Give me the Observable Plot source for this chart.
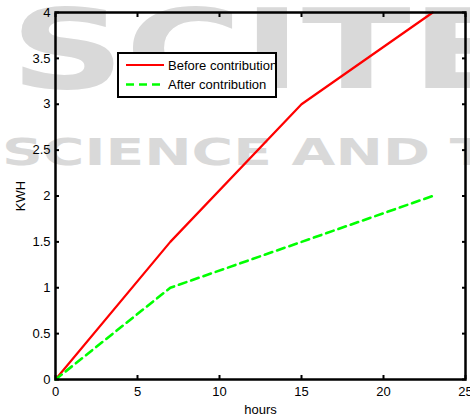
<!DOCTYPE html>
<html>
<head>
<meta charset="utf-8">
<script src="https://cdn.jsdelivr.net/npm/d3@7"></script>
<script src="https://cdn.jsdelivr.net/npm/@observablehq/plot@0.6"></script>
<style>
  html, body { margin: 0; padding: 0; background: #fff; }
  #chart svg { display: block; }
</style>
</head>
<body>
<div id="chart"></div>
<script>
// Data
const hours = [0, 7, 15, 23];
const before = [0, 1.5, 3, 4];
const after = [0, 1, 1.5, 2];
const seriesNames = ["Before contribution", "After contribution"];
const xTicks = [0, 5, 10, 15, 20, 25];
const yTicks = [0, 0.5, 1, 1.5, 2, 2.5, 3, 3.5, 4];

const rowsBefore = hours.map((h, i) => ({hours: h, kwh: before[i]}));
const rowsAfter = hours.map((h, i) => ({hours: h, kwh: after[i]}));

const font = "Liberation Sans, Arial, sans-serif";

const chart = Plot.plot({
  width: 470,
  height: 418,
  marginLeft: 55,
  marginRight: 5,
  marginTop: 12,
  marginBottom: 39,
  style: {fontFamily: font, fontSize: "13px", background: "transparent", color: "#000"},
  x: {domain: [0, 25]},
  y: {domain: [0, 4]},
  marks: [
    Plot.axisX({ticks: xTicks, tickSize: -4, tickPadding: 11, strokeWidth: 2, fontSize: 13,
      label: "hours", labelAnchor: "center", labelArrow: "none", labelOffset: 34}),
    Plot.axisX({anchor: "top", ticks: xTicks, tickSize: -4, strokeWidth: 2, tickFormat: () => "", label: null}),
    Plot.axisY({ticks: yTicks, tickSize: -4, tickPadding: 9, strokeWidth: 2, fontSize: 13,
      tickFormat: d => String(d),
      label: "KWH", labelAnchor: "center", labelArrow: "none", labelOffset: 40}),
    Plot.axisY({anchor: "right", ticks: yTicks, tickSize: -4, strokeWidth: 2, tickFormat: () => "", label: null}),
    Plot.line(rowsBefore, {x: "hours", y: "kwh", stroke: "#ff0000", strokeWidth: 2.2}),
    Plot.line(rowsAfter, {x: "hours", y: "kwh", stroke: "#00ff00", strokeWidth: 2.6, strokeDasharray: "8,5"}),
    Plot.frame({stroke: "#000", strokeWidth: 2.5})
  ]
});

const svg = d3.select(chart);

// Faint background watermark (as in the reference image)
const wm = svg.insert("g", ":first-child").attr("fill", "#d9d9d9")
  .attr("font-family", "DejaVu Sans, sans-serif").attr("font-weight", "bold").attr("text-anchor", "start");
svg.insert("rect", ":first-child").attr("width", 470).attr("height", 418).attr("fill", "#fff");
wm.append("text").attr("x", 10).attr("y", 88).attr("font-size", 110)
  .attr("textLength", 510).attr("lengthAdjust", "spacingAndGlyphs").text("SCITE");
wm.append("text").attr("x", 2).attr("y", 165).attr("font-size", 37)
  .attr("textLength", 525).attr("lengthAdjust", "spacingAndGlyphs").text("SCIENCE AND TE");

// Legend box
const lg = svg.append("g").attr("font-family", font).attr("font-size", 13).attr("text-anchor", "start");
lg.append("rect").attr("x", 118).attr("y", 53).attr("width", 158).attr("height", 44)
  .attr("fill", "#fff").attr("stroke", "#000").attr("stroke-width", 2);
const colors = ["#ff0000", "#00ff00"];
const dashes = [null, "8,5"];
seriesNames.forEach((name, i) => {
  const y = 65 + i * 19.5;
  lg.append("line").attr("x1", 126).attr("x2", 164).attr("y1", y).attr("y2", y)
    .attr("stroke", colors[i]).attr("stroke-width", i ? 2.6 : 2.2).attr("stroke-dasharray", dashes[i]);
  lg.append("text").attr("x", 168).attr("y", y).attr("dy", "0.35em").attr("fill", "#000").text(name);
});

document.getElementById("chart").appendChild(chart);
</script>
</body>
</html>
